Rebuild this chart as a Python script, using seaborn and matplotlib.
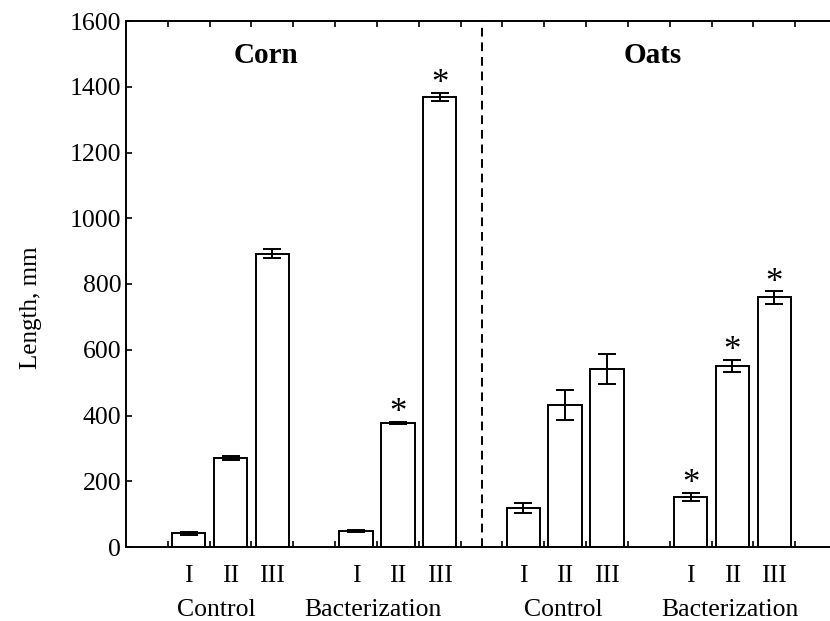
import numpy as np
import pandas as pd
import matplotlib
matplotlib.use("Agg")
import matplotlib.pyplot as plt
import matplotlib.transforms as mtransforms
import seaborn as sns

# data
crops = ["Corn", "Oats"]
treatments = ["Control", "Bacterization"]
stages = ["I", "II", "III"]

corn_control = [42, 271, 892]
corn_control_err = [5, 5, 14]
corn_bact = [49, 378, 1369]
corn_bact_err = [4, 3, 13]
oats_control = [118, 432, 541]
oats_control_err = [16, 45, 46]
oats_bact = [153, 550, 759]
oats_bact_err = [12, 19, 19]

# * = significant difference from control
corn_control_sig = [False, False, False]
corn_bact_sig = [False, True, True]
oats_control_sig = [False, False, False]
oats_bact_sig = [True, True, True]

groups = [
    ("Corn", "Control", corn_control, corn_control_err, corn_control_sig),
    ("Corn", "Bacterization", corn_bact, corn_bact_err, corn_bact_sig),
    ("Oats", "Control", oats_control, oats_control_err, oats_control_sig),
    ("Oats", "Bacterization", oats_bact, oats_bact_err, oats_bact_sig),
]

rows = []
for g, (crop, treat, vals, errs, sig) in enumerate(groups):
    for k, st in enumerate(stages):
        rows.append({"crop": crop, "treatment": treat, "stage": st,
                     "pos": g * 4 + k, "length": vals[k],
                     "err": errs[k], "sig": sig[k]})
df = pd.DataFrame(rows)

sns.set_style("ticks")
plt.rcParams["font.family"] = ["Liberation Serif", "DejaVu Serif"]
plt.rcParams["axes.linewidth"] = 1.4
for key in ["text.color", "axes.labelcolor", "axes.edgecolor",
            "xtick.color", "ytick.color"]:
    plt.rcParams[key] = "black"

fig = plt.figure(figsize=(8.3, 6.21), dpi=100)
ax = fig.add_axes([126 / 830, 74 / 621, 711 / 830, 526 / 621])

sns.barplot(data=df, x="pos", y="length", native_scale=True, color="white",
            saturation=1, edgecolor="black", linewidth=1.4, width=0.8,
            errorbar=None, ax=ax)
ax.errorbar(df["pos"], df["length"], yerr=df["err"], fmt="none",
            ecolor="black", elinewidth=1.4, capsize=6.5, capthick=1.4)

for _, r in df[df["sig"]].iterrows():
    ax.annotate("*", (r["pos"], r["length"] + r["err"]), xytext=(0, -6),
                textcoords="offset points", ha="center", va="bottom",
                fontsize=25)

ax.axvline(7, color="black", lw=1.4, ls=(0, (4.5, 3)))

ax.set_xlim(-1.5, 15.5)
ax.set_ylim(0, 1600)
ax.set_yticks(np.arange(0, 1601, 200))
ax.set_xticks(np.arange(-0.5, 15, 1))
ax.set_xticklabels([])
ax.set_xticks(df["pos"], minor=True)
ax.set_xticklabels(df["stage"], minor=True)
ax.tick_params(axis="both", which="major", direction="in", length=4,
               width=1.2, labelsize=18.5, top=True)
ax.tick_params(axis="x", which="minor", length=0, pad=13, labelsize=18.5)
ax.spines["right"].set_visible(False)

ax.set_xlabel("")
ax.set_ylabel("Length, mm", fontsize=18)
ax.yaxis.set_label_coords(-0.118, 0.455)

trans = mtransforms.blended_transform_factory(ax.transData, ax.transAxes)
label_x = [0.67, 4.4, 8.95, 12.95]
for (crop, treat, *_), lx in zip(groups, label_x):
    ax.text(lx, -0.12, treat, transform=trans, ha="center", va="center",
            fontsize=18.5)

ax.text(1.85, 1495, crops[0], ha="center", va="center", fontsize=21,
        fontweight="bold")
ax.text(11.1, 1495, crops[1], ha="center", va="center", fontsize=21,
        fontweight="bold")

fig.savefig("out.png", dpi=100)
